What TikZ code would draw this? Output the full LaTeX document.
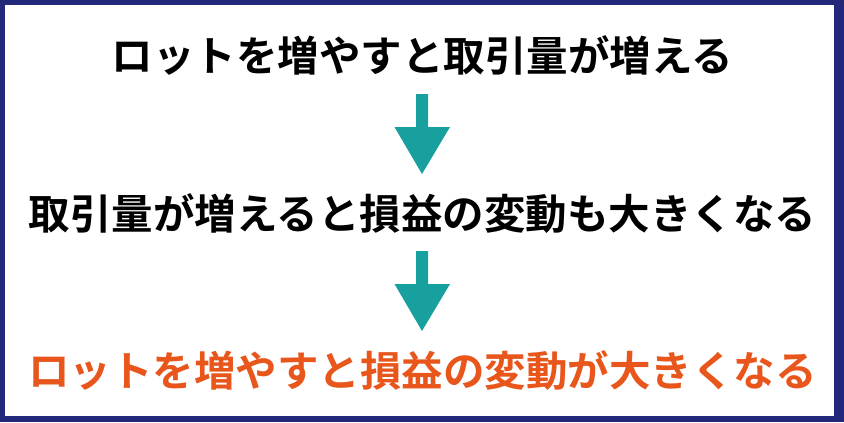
\documentclass[tikz,border=0pt]{standalone}
\usepackage{fontspec}
\newfontfamily\jpfont{Noto Sans CJK JP}[BoldFont={* Bold}]
\definecolor{navy}{HTML}{24287A}
\definecolor{teal}{HTML}{18A09F}
\definecolor{orng}{HTML}{E8561C}
\tikzset{
  line/.style={font=\jpfont\bfseries\fontsize{41.5bp}{48bp}\selectfont, inner sep=0pt},
  downarrow/.style={fill=teal, draw=none}
}
\begin{document}
\begin{tikzpicture}[x=1bp,y=-1bp]
  \fill[navy] (0,0) rectangle (844,422);
  \fill[white] (5,5) rectangle (834,416);
  \useasboundingbox (0,0) rectangle (844,422);
  \node[line, text=black] (l1) at (422.5,55.5) {ロットを増やすと取引量が増える};
  \node[line, text=black] (l2) at (422.5,213.5) {取引量が増えると損益の変動も大きくなる};
  \node[line, text=orng] (l3) at (422.5,370.5) {ロットを増やすと損益の変動が大きくなる};
  \coordinate (a1) at (422,94);
  \coordinate (a2) at (422,251);
  \fill[downarrow] (a1) ++(-6,0) -- ++(12,0) -- ++(0,33) -- ++(22,0) -- (422,174) -- (394.5,127) -- (416,127) -- cycle;
  \fill[downarrow] (a2) ++(-6,0) -- ++(12,0) -- ++(0,33) -- ++(22,0) -- (422,331) -- (394.5,284) -- (416,284) -- cycle;
\end{tikzpicture}
\end{document}
